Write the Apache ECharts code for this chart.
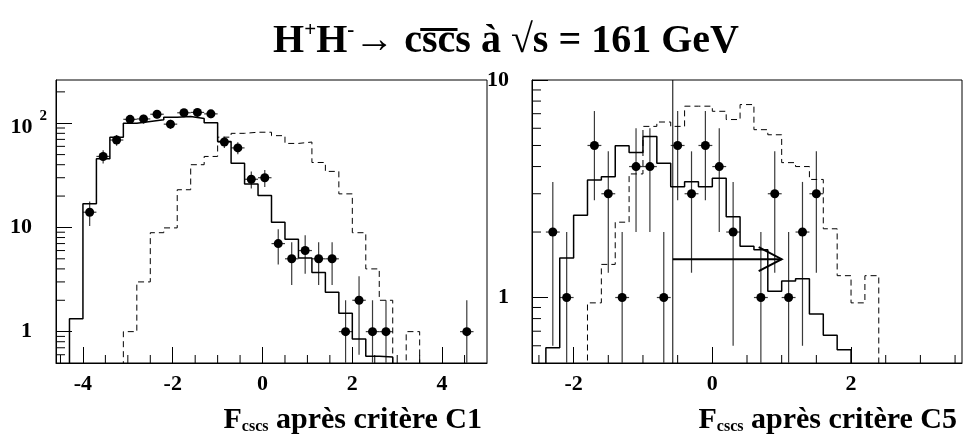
<!DOCTYPE html>
<html><head><meta charset="utf-8">
<script src="https://cdn.jsdelivr.net/npm/echarts@6/dist/echarts.min.js"></script>
<style>html,body{margin:0;padding:0;background:#fff}#c{width:963px;height:435px}</style>
</head><body><div id="c"></div>
<script>
// ---------------- DATA ----------------
// Left panel : F_cscs after cut C1 (bin width 0.3)
const leftBinW = 0.3;
const leftMcStart = -4.3;
const leftMc = [1.33, 16.9, 45.6, 73.5, 100, 104, 108, 114, 116, 111, 101, 66.7, 41.4, 26.1, 20.3, 11.2, 7.7, 5.1, 3.7, 2.39, 1.5, 0.85, 0.58, 0.57];
const leftSigStart = -3.1;
const leftSig = [1.0, 3.0, 8.9, 9.9, 23, 40, 48, 73.5, 80, 82, 82, 76, 64, 66, 42, 34.5, 21, 8.9, 4.0, 2.0, 0, 1.0];
const leftPtsX = [-3.85, -3.55, -3.25, -2.95, -2.65, -2.35, -2.05, -1.75, -1.45, -1.15, -0.85, -0.55, -0.25, 0.05, 0.35, 0.65, 0.95, 1.25, 1.55, 1.85, 2.15, 2.45, 2.75, 4.55];
const leftPtsY = [14, 48, 69, 109, 110, 122, 98, 126, 127, 123, 66, 58, 29, 30, 7, 5, 6, 5, 5, 1, 2, 1, 1, 1];
const leftPtsErr = [3.7, 6.9, 8.3, 10.4, 10.5, 11, 9.9, 11.2, 11.3, 11.1, 8.1, 7.6, 5.4, 5.5, 2.6, 2.2, 2.4, 2.2, 2.2, 1, 1.4, 1, 1, 1];
const leftXRange = [-4.6, 5.0];
const leftYRange = [0.5, 260];
const leftMinorX = [-4.5, -3.5, -3, -2.5, -1.5, -1, -0.5, 0.5, 1, 1.5, 2.5, 3, 3.5, 4.5];
const leftMinorY = [0.6, 0.7, 0.8, 0.9, 2, 3, 4, 5, 6, 7, 8, 9, 20, 30, 40, 50, 60, 70, 80, 90, 200];

// Right panel : F_cscs after cut C5 (bin width 0.2)
const rightBinW = 0.2;
const rightMcStart = -2.4;
const rightMc = [0.587, 1.52, 2.39, 3.47, 3.59, 4.98, 4.64, 5.5, 4.14, 3.23, 3.41, 3.23, 3.53, 2.35, 1.72, 1.66, 1.07, 1.19, 1.22, 0.84, 0.67, 0.576];
const rightSigStart = -1.8;
const rightSig = [0.945, 1.42, 2.22, 3.70, 6.12, 6.41, 6.12, 7.58, 7.58, 7.18, 6.58, 7.71, 5.91, 5.6, 4.17, 4.0, 3.49, 2.07, 1.26, 0.945, 1.26];
const rightPtsX = [-2.3, -2.1, -1.7, -1.5, -1.3, -1.1, -0.9, -0.7, -0.5, -0.3, -0.1, 0.1, 0.3, 0.7, 0.9, 1.1, 1.3, 1.5];
const rightPtsY = [2, 1, 5, 3, 1, 4, 4, 1, 5, 3, 5, 4, 2, 1, 3, 1, 2, 3];
const rightPtsErr = [1.4, 1, 2.2, 1.7, 1, 2, 2, 1, 2.2, 1.7, 2.2, 2, 1.4, 1, 1.7, 1, 1.4, 1.7];
const rightXRange = [-2.6, 3.6];
const rightYRange = [0.5, 10];
const rightMinorX = [-2.5, -1.5, -1, -0.5, 0.5, 1, 1.5, 2.5, 3, 3.5];
const rightMinorY = [0.6, 0.7, 0.8, 0.9, 2, 3, 4, 5, 6, 7, 8, 9];
const cutValue = -0.57;
const arrowEnd = 1.0;
const arrowLevel = 1.5;

// ---------------- BUILD ----------------
const FLOOR = 0.05;
function histLine(start, w, counts) {
  const pts = [[start, FLOOR]];
  counts.forEach((c, i) => pts.push([start + i * w, c > 0 ? c : FLOOR]));
  pts.push([start + counts.length * w, FLOOR]);
  return pts;
}
function points(xs, ys, es, hw) {
  return xs.map((x, i) => [x, ys[i], es[i], hw]);
}
const FONT = 'Liberation Serif';
function errRender(params, api) {
  const x = api.value(0), y = api.value(1), e = api.value(2), hw = api.value(3);
  const c = api.coord([x, y]);
  const lo = api.coord([x, Math.max(y - e, 0.01)]);
  const hi = api.coord([x, y + e]);
  const l = api.coord([x - hw, y]);
  const r = api.coord([x + hw, y]);
  return {type: 'group', children: [
    {type: 'line', shape: {x1: lo[0], y1: lo[1], x2: hi[0], y2: hi[1]}, style: {stroke: '#3a3a3a', lineWidth: 1.2}},
    {type: 'line', shape: {x1: l[0], y1: c[1], x2: r[0], y2: c[1]}, style: {stroke: '#3a3a3a', lineWidth: 1.2}},
    {type: 'circle', shape: {cx: c[0], cy: c[1], r: 4.5}, style: {fill: '#000'}}
  ]};
}
function minorYRender(params, api) {
  const p = api.coord([api.value(0), api.value(1)]);
  return {type: 'line', shape: {x1: p[0], y1: p[1], x2: p[0] + 9, y2: p[1]}, style: {stroke: '#000', lineWidth: 1}};
}
function minorXRender(params, api) {
  const p = api.coord([api.value(0), api.value(1)]);
  return {type: 'line', shape: {x1: p[0], y1: p[1], x2: p[0], y2: p[1] - 8}, style: {stroke: '#000', lineWidth: 1}};
}
function arrowRender(params, api) {
  const a = api.coord([api.value(0), api.value(2)]);
  const b = api.coord([api.value(1), api.value(2)]);
  return {type: 'group', children: [
    {type: 'line', shape: {x1: a[0], y1: a[1], x2: b[0], y2: b[1]}, style: {stroke: '#000', lineWidth: 2}},
    {type: 'polyline', shape: {points: [[b[0] - 23, b[1] - 12], [b[0], b[1]], [b[0] - 23, b[1] + 12]]}, style: {stroke: '#000', lineWidth: 2, fill: null}}
  ]};
}

const labelStyle = {color: '#000', fontFamily: FONT, fontWeight: 'bold', fontSize: 22};
function xAxisCfg(idx, range, split) {
  return {
    type: 'value', gridIndex: idx, min: range[0], max: range[1], splitNumber: split,
    minInterval: 2, maxInterval: 2,
    axisLine: {show: true, onZero: false, lineStyle: {color: '#000', width: 1}},
    axisTick: {show: true, inside: true, length: 16, lineStyle: {color: '#000'}},
    axisLabel: Object.assign({showMinLabel: false, showMaxLabel: false, margin: 10}, labelStyle),
    splitLine: {show: false}
  };
}
function yAxisCfg(idx, range, margin) {
  return {
    type: 'log', logBase: 10, gridIndex: idx, min: range[0], max: range[1],
    axisLine: {show: true, onZero: false, lineStyle: {color: '#000', width: 1}},
    axisTick: {show: true, inside: true, length: 16, lineStyle: {color: '#000'}},
    axisLabel: Object.assign({showMinLabel: false, showMaxLabel: idx === 1, margin: margin,
      formatter: v => v === 100 ? '{a|10}{s|2}' : String(v),
      rich: {
        a: {fontFamily: FONT, fontWeight: 'bold', fontSize: 22, lineHeight: 30, verticalAlign: 'bottom', color: '#000'},
        s: {fontFamily: FONT, fontWeight: 'bold', fontSize: 15, lineHeight: 15, verticalAlign: 'top', color: '#000', padding: [0, -15, 0, 7]}
      }}, labelStyle),
    splitLine: {show: false}
  };
}
function axisTitle(text, right) {
  return {text: '{f|F}{s|cscs}{t| ' + text + '}', right: right, top: 396,
    textStyle: {rich: {
      f: {fontFamily: FONT, fontWeight: 'bold', fontSize: 30, lineHeight: 34, color: '#000', verticalAlign: 'bottom'},
      t: {fontFamily: FONT, fontWeight: 'bold', fontSize: 30, lineHeight: 34, color: '#000', verticalAlign: 'bottom'},
      s: {fontFamily: FONT, fontWeight: 'bold', fontSize: 16, lineHeight: 16, color: '#000', verticalAlign: 'bottom', padding: [12, 0, 0, 0]}
    }}};
}

const option = {
  animation: false,
  backgroundColor: '#fff',
  title: [
    {text: '{t|H}{p|+}{t|H}{p|-}{t|\u2192 cs\u0305c\u0305s à \u221As = 161 GeV}', left: 501, top: 15, textAlign: 'center',
     textStyle: {rich: {
       t: {fontFamily: FONT, fontWeight: 'bold', fontSize: 40, lineHeight: 42, color: '#000', verticalAlign: 'bottom'},
       p: {fontFamily: FONT, fontWeight: 'bold', fontSize: 21, lineHeight: 21, color: '#000', verticalAlign: 'top'}
     }}},
    axisTitle('après critère C1', 476),
    axisTitle('après critère C5', 1)
  ],
  grid: [
    {left: 56, top: 80, width: 431, height: 283, show: true, borderColor: '#000', borderWidth: 1, backgroundColor: 'transparent', outerBoundsMode: 'none'},
    {left: 532, top: 80, width: 430, height: 283, show: true, borderColor: '#000', borderWidth: 1, backgroundColor: 'transparent', outerBoundsMode: 'none'}
  ],
  xAxis: [xAxisCfg(0, leftXRange, 5), xAxisCfg(1, rightXRange, 3)],
  yAxis: [yAxisCfg(0, leftYRange, 24), yAxisCfg(1, rightYRange, 23)],
  series: [
    {type: 'line', xAxisIndex: 0, yAxisIndex: 0, step: 'end', symbol: 'none', clip: true,
     data: histLine(leftMcStart, leftBinW, leftMc), lineStyle: {color: '#000', width: 1.5}},
    {type: 'line', xAxisIndex: 0, yAxisIndex: 0, step: 'end', symbol: 'none', clip: true,
     data: histLine(leftSigStart, leftBinW, leftSig), lineStyle: {color: '#000', width: 1, type: [6, 4]}},
    {type: 'custom', xAxisIndex: 0, yAxisIndex: 0, clip: true, renderItem: errRender,
     data: points(leftPtsX, leftPtsY, leftPtsErr, leftBinW / 2)},
    {type: 'custom', xAxisIndex: 0, yAxisIndex: 0, clip: false, renderItem: minorXRender,
     data: leftMinorX.map(v => [v, leftYRange[0]])},
    {type: 'custom', xAxisIndex: 0, yAxisIndex: 0, clip: false, renderItem: minorYRender,
     data: leftMinorY.map(v => [leftXRange[0], v])},

    {type: 'line', xAxisIndex: 1, yAxisIndex: 1, step: 'end', symbol: 'none', clip: true,
     data: histLine(rightMcStart, rightBinW, rightMc), lineStyle: {color: '#000', width: 1.5}},
    {type: 'line', xAxisIndex: 1, yAxisIndex: 1, step: 'end', symbol: 'none', clip: true,
     data: histLine(rightSigStart, rightBinW, rightSig), lineStyle: {color: '#000', width: 1, type: [6, 4]}},
    {type: 'custom', xAxisIndex: 1, yAxisIndex: 1, clip: true, renderItem: errRender,
     data: points(rightPtsX, rightPtsY, rightPtsErr, rightBinW / 2)},
    {type: 'line', xAxisIndex: 1, yAxisIndex: 1, symbol: 'none', clip: true,
     data: [[cutValue, rightYRange[0]], [cutValue, rightYRange[1]]], lineStyle: {color: '#000', width: 1}},
    {type: 'custom', xAxisIndex: 1, yAxisIndex: 1, clip: false, renderItem: arrowRender,
     data: [[cutValue, arrowEnd, arrowLevel]]},
    {type: 'custom', xAxisIndex: 1, yAxisIndex: 1, clip: false, renderItem: minorXRender,
     data: rightMinorX.map(v => [v, rightYRange[0]])},
    {type: 'custom', xAxisIndex: 1, yAxisIndex: 1, clip: false, renderItem: minorYRender,
     data: rightMinorY.map(v => [rightXRange[0], v])}
  ]
};
const chart = echarts.init(document.getElementById('c'), null, {renderer: 'canvas'});
chart.setOption(option);
</script></body></html>
